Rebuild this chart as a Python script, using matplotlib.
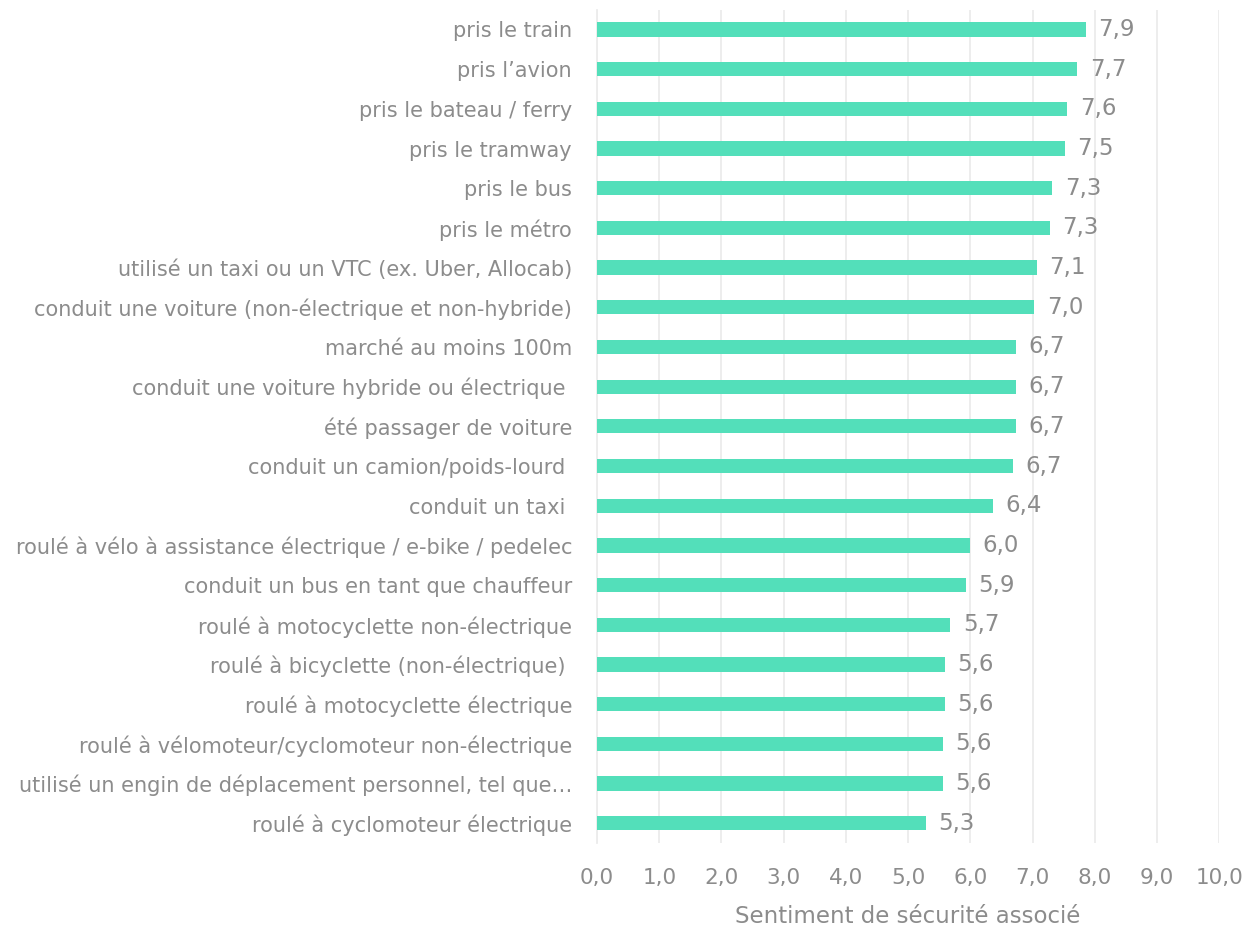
"""
Bar chart: perceived safety score per transport mode
"""

import matplotlib.pyplot as plt
from matplotlib.ticker import FuncFormatter

# ------------------ DATA ------------------
modes = [
    "pris le train",
    "pris l\u2019avion",
    "pris le bateau / ferry",
    "pris le tramway",
    "pris le bus",
    "pris le métro",
    "utilisé un taxi ou un VTC (ex. Uber, Allocab)",
    "conduit une voiture (non-électrique et non-hybride)",
    "marché au moins 100m",
    "conduit une voiture hybride ou électrique ",
    "été passager de voiture",
    "conduit un camion/poids-lourd ",
    "conduit un taxi ",
    "roulé à vélo à assistance électrique / e-bike / pedelec",
    "conduit un bus en tant que chauffeur",
    "roulé à motocyclette non-électrique",
    "roulé à bicyclette (non-électrique) ",
    "roulé à motocyclette électrique",
    "roulé à vélomoteur/cyclomoteur non-électrique",
    "utilisé un engin de déplacement personnel, tel que\u2026",
    "roulé à cyclomoteur électrique",
]
scores = [7.86, 7.72, 7.56, 7.52, 7.32, 7.28, 7.07, 7.03, 6.74, 6.74, 6.74,
          6.69, 6.37, 6.00, 5.93, 5.68, 5.59, 5.59, 5.56, 5.56, 5.29]
x_ticks = [0, 1, 2, 3, 4, 5, 6, 7, 8, 9, 10]

BAR_COLOR = "#53dfba"
TEXT_COLOR = "#8c8c8c"
GRID_COLOR = "#ececec"


def fr_num(v, _pos=None):
    return f"{v:.1f}".replace(".", ",")


fig = plt.figure(figsize=(12.53, 9.26), dpi=100)
ax = fig.add_axes([0.4765, 0.0896, 0.4965, 0.9], zorder=1)

ypos = list(range(len(modes)))
ax.barh(ypos, scores, height=0.36, color=BAR_COLOR, zorder=3)
ax.set_ylim(len(modes) - 0.5, -0.5)
ax.set_xlim(0, 10)

for y, v in zip(ypos, scores):
    ax.text(v + 0.2, y, fr_num(v), va="center", ha="left",
            fontsize=16.5, color=TEXT_COLOR)

ax.set_yticks(ypos)
ax.set_yticklabels(modes, fontsize=15, color=TEXT_COLOR)
ax.tick_params(axis="y", length=0, pad=18)

ax.set_xticks(x_ticks)
ax.xaxis.set_major_formatter(FuncFormatter(fr_num))
ax.tick_params(axis="x", length=0, pad=18, labelsize=15.5, labelcolor=TEXT_COLOR)
ax.set_xlabel("Sentiment de sécurité associé", fontsize=16.5,
              color=TEXT_COLOR, labelpad=12)

ax.grid(axis="x", color=GRID_COLOR, linewidth=1.3, zorder=0)
ax.set_axisbelow(True)
for side in ["top", "right", "bottom"]:
    ax.spines[side].set_visible(False)
ax.spines["left"].set_color(GRID_COLOR)
ax.spines["left"].set_linewidth(1.3)

fig.savefig("out.png", dpi=100)
plt.close(fig)
